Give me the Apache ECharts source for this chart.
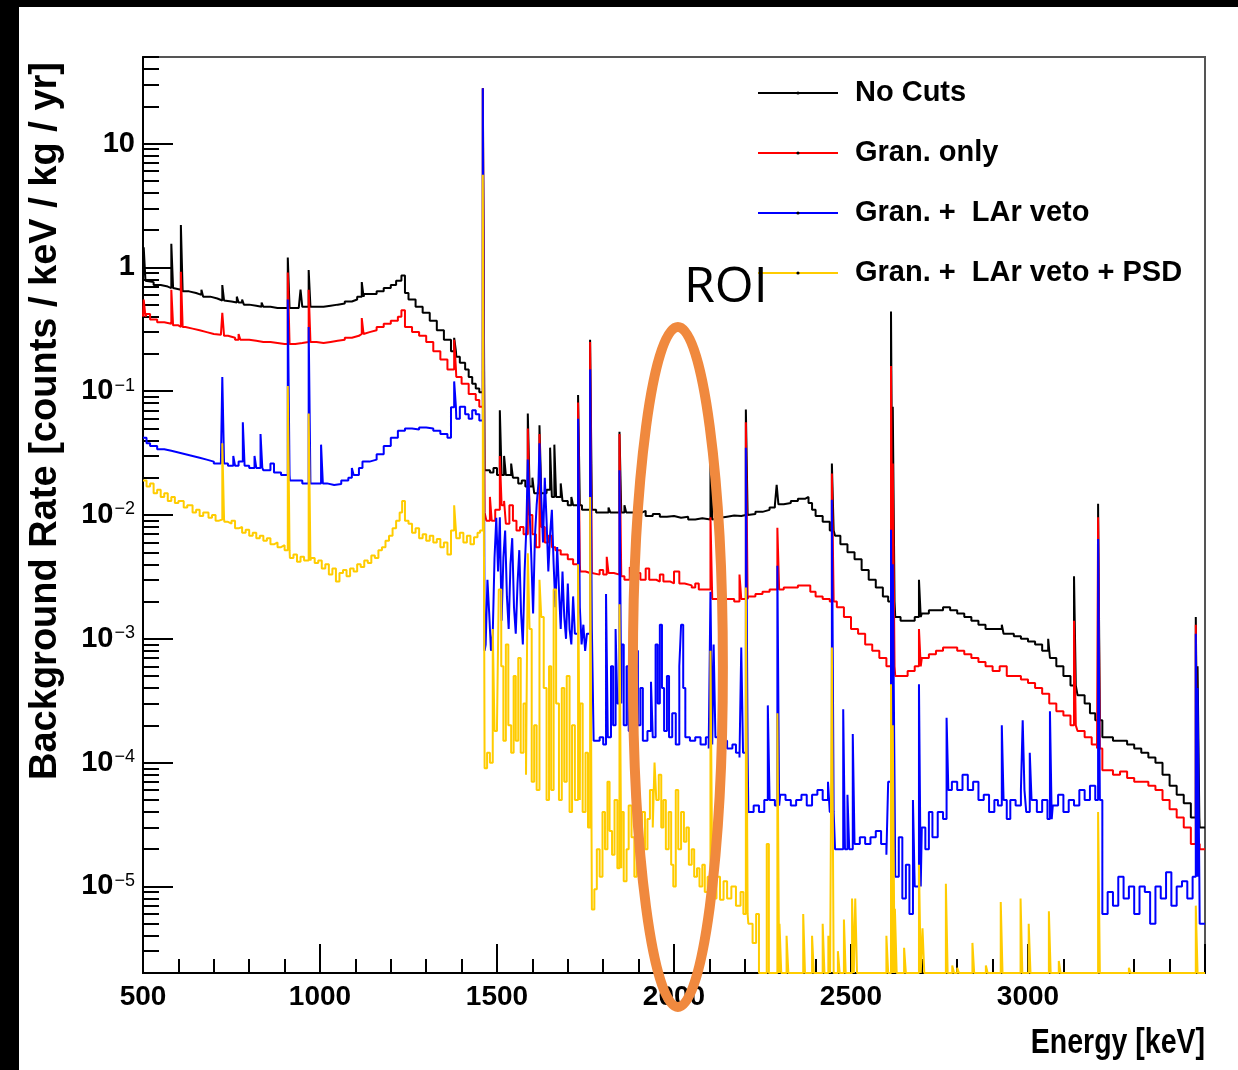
<!DOCTYPE html>
<html>
<head>
<meta charset="utf-8">
<script src="https://cdn.jsdelivr.net/npm/echarts@6/dist/echarts.min.js"></script>
<style>
html,body{margin:0;padding:0;background:#fff;}
#chart{width:1238px;height:1070px;}
</style>
</head>
<body>
<div id="chart"></div>
<script>
// ---------------- DATA ----------------
const seriesNames = ['No Cuts', 'Gran. only', 'Gran. +  LAr veto', 'Gran. +  LAr veto + PSD'];
const yTickExponents = [-5, -4, -3, -2, -1, 0, 1];

// continuum breakpoints [energy keV, rate] (histogram, value holds until next point)
const noCutsCont = [[500,0.78],[510,0.76],[530,0.72],[550,0.70],[570,0.68],[590,0.66],[610,0.64],[630,0.62],[650,0.60],[665,0.66],[670,0.58],[690,0.56],[710,0.54],[730,0.53],[750,0.52],[765,0.58],[770,0.52],[780,0.55],[785,0.50],[800,0.49],[820,0.48],[835,0.52],[840,0.48],[860,0.47],[880,0.47],[900,0.47],[920,0.47],[940,0.47],[945,0.66],[950,0.48],[975,0.48],[990,0.48],[1010,0.49],[1030,0.50],[1050,0.51],[1070,0.53],[1090,0.55],[1105,0.58],[1125,0.61],[1140,0.61],[1160,0.64],[1180,0.68],[1200,0.72],[1215,0.78],[1230,0.86],[1240,0.62],[1250,0.55],[1270,0.48],[1290,0.43],[1310,0.37],[1330,0.31],[1350,0.26],[1370,0.21],[1385,0.19],[1395,0.17],[1410,0.15],[1420,0.13],[1430,0.115],[1440,0.105],[1450,0.098],[1465,0.023],[1480,0.022],[1490,0.024],[1500,0.021],[1520,0.030],[1525,0.021],[1540,0.026],[1545,0.020],[1560,0.018],[1570,0.019],[1580,0.017],[1600,0.020],[1605,0.015],[1640,0.016],[1650,0.035],[1655,0.014],[1680,0.018],[1685,0.013],[1700,0.012],[1710,0.014],[1715,0.012],[1740,0.011],[1780,0.0105],[1800,0.0105],[1815,0.0115],[1820,0.0105],[1860,0.012],[1865,0.0105],[1890,0.0105],[1910,0.0108],[1920,0.0098],[1940,0.0102],[1960,0.0097],[1980,0.0098],[2000,0.0095],[2020,0.0097],[2040,0.0092],[2060,0.0094],[2080,0.0092],[2110,0.0095],[2130,0.0097],[2150,0.0099],[2170,0.0098],[2190,0.0100],[2210,0.0102],[2230,0.0106],[2250,0.011],[2270,0.0115],[2285,0.012],[2290,0.0175],[2295,0.0122],[2310,0.0125],[2330,0.013],[2350,0.0135],[2370,0.014],[2380,0.0125],[2390,0.011],[2400,0.0098],[2420,0.0088],[2440,0.0075],[2455,0.0068],[2470,0.0058],[2490,0.0050],[2510,0.0044],[2530,0.0036],[2550,0.0030],[2570,0.0026],[2590,0.0022],[2605,0.0020],[2625,0.0015],[2640,0.0014],[2660,0.0014],[2680,0.0015],[2700,0.0016],[2720,0.0017],[2740,0.0017],[2760,0.0018],[2780,0.0017],[2800,0.0016],[2820,0.0015],[2840,0.0014],[2860,0.0013],[2880,0.0012],[2900,0.0012],[2930,0.0011],[2960,0.00105],[2980,0.0010],[3000,0.00095],[3020,0.0009],[3040,0.0008],[3060,0.0007],[3080,0.0006],[3100,0.0005],[3120,0.00042],[3140,0.00035],[3160,0.0003],[3175,0.00025],[3190,0.00022],[3210,0.00016],[3240,0.00015],[3260,0.00015],[3280,0.00014],[3300,0.00013],[3320,0.00012],[3340,0.00011],[3360,0.0001],[3380,0.00008],[3400,0.000065],[3420,0.000055],[3440,0.000047],[3460,0.000036],[3485,0.00003]];
const noCutsPeaks = [[502,1.45],[580,1.55],[607,2.2],[724,0.72],[909,1.2],[968,0.95],[1118,0.76],[1379,0.27],[1460,28],[1508,0.07],[1587,0.066],[1620,0.053],[1662,0.037],[1729,0.093],[1763,0.26],[1846,0.047],[2103,0.043],[2203,0.071],[2446,0.026],[2613,0.44],[2618,0.075],[2692,0.003],[2926,0.0013],[3057,0.001],[3130,0.0032],[3198,0.0123],[3474,0.0015],[3479,0.0006]];

const granCont = [[500,0.40],[510,0.42],[520,0.38],[540,0.36],[560,0.35],[580,0.34],[600,0.33],[620,0.32],[640,0.31],[660,0.30],[680,0.29],[700,0.285],[720,0.28],[740,0.27],[760,0.26],[770,0.29],[775,0.26],[800,0.255],[820,0.25],[840,0.25],[860,0.245],[880,0.24],[900,0.24],[930,0.245],[950,0.25],[990,0.245],[1010,0.25],[1030,0.255],[1050,0.26],[1070,0.27],[1090,0.28],[1110,0.29],[1125,0.30],[1140,0.31],[1160,0.33],[1180,0.35],[1200,0.37],[1220,0.40],[1230,0.45],[1240,0.33],[1260,0.30],[1280,0.28],[1300,0.25],[1320,0.21],[1340,0.18],[1360,0.15],[1385,0.13],[1400,0.115],[1420,0.095],[1440,0.085],[1450,0.075],[1465,0.0105],[1470,0.009],[1480,0.014],[1485,0.009],[1495,0.011],[1510,0.012],[1520,0.013],[1525,0.0085],[1535,0.012],[1545,0.009],[1555,0.0075],[1565,0.008],[1575,0.007],[1590,0.010],[1600,0.007],[1610,0.0055],[1625,0.008],[1635,0.006],[1645,0.0068],[1655,0.0055],[1665,0.0052],[1680,0.0048],[1700,0.0044],[1715,0.0040],[1735,0.0035],[1750,0.0034],[1770,0.0033],[1790,0.0036],[1800,0.0033],[1810,0.0046],[1815,0.0034],[1830,0.0033],[1850,0.0032],[1860,0.0030],[1875,0.0038],[1880,0.0031],[1895,0.0034],[1905,0.0030],[1920,0.0037],[1930,0.0030],[1950,0.0029],[1960,0.0033],[1970,0.0029],[1990,0.0028],[2000,0.0035],[2015,0.0028],[2030,0.0027],[2050,0.0026],[2060,0.0028],[2070,0.0025],[2090,0.0025],[2108,0.0021],[2130,0.0021],[2150,0.0021],[2170,0.0020],[2185,0.0033],[2190,0.0021],[2210,0.0022],[2230,0.0023],[2250,0.0024],[2270,0.0025],[2310,0.0026],[2330,0.0026],[2350,0.0027],[2370,0.0027],[2385,0.0024],[2400,0.0022],[2420,0.0021],[2440,0.0020],[2460,0.0018],[2480,0.0015],[2500,0.0012],[2520,0.0011],[2540,0.0009],[2560,0.0008],[2580,0.0007],[2600,0.0006],[2625,0.0005],[2640,0.0005],[2660,0.00055],[2680,0.0006],[2700,0.0007],[2720,0.00075],[2740,0.0008],[2760,0.00085],[2780,0.00085],[2800,0.0008],[2820,0.00075],[2840,0.0007],[2860,0.00065],[2880,0.0006],[2900,0.00055],[2920,0.0006],[2940,0.0005],[2960,0.0005],[2980,0.00047],[3000,0.00044],[3020,0.0004],[3040,0.00036],[3060,0.0003],[3080,0.00026],[3100,0.00024],[3120,0.0002],[3140,0.00018],[3160,0.00016],[3180,0.00014],[3195,0.00013],[3210,0.000087],[3240,0.00008],[3260,0.000085],[3280,0.000075],[3300,0.00007],[3320,0.00007],[3340,0.000065],[3360,0.00006],[3380,0.00005],[3400,0.000042],[3420,0.000036],[3440,0.00003],[3460,0.000022],[3485,0.00002]];
const granPeaks = [[502,0.55],[580,0.66],[607,0.92],[724,0.43],[909,0.91],[968,0.66],[1118,0.39],[1379,0.26],[1460,28],[1508,0.03],[1587,0.05],[1620,0.045],[1729,0.081],[1763,0.25],[1846,0.045],[2103,0.0096],[2203,0.056],[2292,0.0079],[2446,0.0216],[2613,0.16],[2618,0.026],[2692,0.0012],[3130,0.0014],[3198,0.0096],[3474,0.0013]];

const larCont = [[500,0.042],[510,0.038],[520,0.036],[540,0.034],[560,0.033],[580,0.032],[600,0.031],[620,0.030],[640,0.029],[660,0.028],[680,0.027],[700,0.026],[720,0.026],[740,0.025],[755,0.030],[760,0.025],[770,0.027],[785,0.025],[800,0.024],[815,0.030],[820,0.024],[840,0.023],[860,0.026],[870,0.022],[890,0.021],[915,0.019],[930,0.019],[950,0.018],[975,0.018],[990,0.018],[1010,0.018],[1020,0.0175],[1040,0.0178],[1060,0.019],[1080,0.020],[1090,0.024],[1095,0.021],[1110,0.024],[1120,0.027],[1140,0.028],[1160,0.031],[1180,0.036],[1200,0.042],[1220,0.048],[1240,0.050],[1260,0.049],[1280,0.051],[1300,0.050],[1320,0.048],[1340,0.045],[1360,0.042],[1370,0.074],[1385,0.060],[1395,0.075],[1410,0.065],[1420,0.060],[1430,0.070],[1440,0.065],[1450,0.058],
[1463,0.0008],[1468,0.0009],[1473,0.003],[1478,0.0016],[1483,0.0008],[1488,0.0011],[1493,0.0045],[1498,0.0095],[1503,0.0035],[1513,0.0014],[1518,0.0045],[1523,0.0075],[1528,0.0022],[1533,0.0012],[1538,0.004],[1543,0.0065],[1548,0.0018],[1553,0.0011],[1558,0.0028],[1563,0.0052],[1568,0.0016],[1573,0.0009],[1578,0.0035],[1583,0.008],[1592,0.011],[1597,0.0045],[1602,0.0016],[1607,0.0065],[1612,0.012],[1617,0.018],[1625,0.014],[1630,0.006],[1635,0.02],[1640,0.009],[1645,0.0035],[1650,0.007],[1655,0.011],[1660,0.004],[1665,0.0018],[1670,0.0055],[1675,0.0025],[1680,0.0012],[1685,0.0035],[1690,0.0015],[1695,0.001],[1700,0.0028],[1705,0.0012],[1710,0.0009],[1715,0.0022],[1720,0.0011],[1734,0.0018],[1739,0.0009],[1744,0.0013],[1749,0.0008],[1754,0.0011],[1768,0.0012],
[1773,0.00015],[1790,0.00016],[1800,0.00014],[1808,0.0023],[1813,0.00016],[1822,0.0006],[1828,0.0002],[1835,0.0012],[1840,0.0003],[1852,0.0009],[1858,0.0002],[1866,0.0006],[1872,0.00018],[1880,0.0011],[1886,0.0003],[1892,0.0008],[1898,0.0002],[1905,0.0004],[1912,0.00015],[1925,0.00018],[1935,0.00045],[1940,0.00016],[1948,0.0009],[1954,0.0003],[1960,0.0013],[1966,0.0004],[1972,0.00018],[1980,0.0005],[1986,0.00016],[1995,0.00025],[2005,0.00014],[2015,0.0006],[2020,0.0013],[2026,0.0004],[2032,0.00016],[2045,0.00015],[2060,0.00016],[2075,0.00014],[2090,0.00016],[2098,0.00013],[2108,0.00014],[2112,0.0009],[2117,0.00016],[2130,0.00015],[2150,0.00013],[2165,0.00014],[2175,0.00012],[2185,0.00011],[2190,0.00085],[2195,0.00012],[2210,0.00004],[2225,0.000045],[2240,0.00004],[2255,0.00005],[2265,0.00029],[2270,0.00005],[2285,0.000045],[2300,0.000055],[2315,0.00005],[2330,0.000045],[2345,0.00005],[2360,0.000055],[2375,0.000045],[2390,0.000055],[2405,0.00006],[2420,0.00005],[2435,0.00007],[2440,0.00004],[2455,0.00002],[2470,0.00002],[2478,0.00027],[2483,0.00002],[2490,0.000055],[2495,0.00002],[2505,0.00017],[2510,0.000022],[2525,0.000025],[2540,0.000022],[2555,0.000025],[2570,0.000028],[2585,0.000022],[2600,0.000018],[2605,0.00007],[2625,0.000012],[2635,0.000025],[2645,0.000008],[2655,0.000015],[2665,0.000006],[2675,0.00005],[2680,0.00001],[2700,0.00003],[2710,0.00002],[2720,0.00004],[2730,0.000025],[2745,0.00004],[2760,0.000035],[2775,0.00006],[2785,0.00007],[2800,0.00006],[2815,0.00008],[2830,0.00006],[2845,0.00007],[2860,0.00005],[2875,0.000055],[2890,0.00004],[2905,0.00005],[2915,0.000045],[2930,0.00005],[2940,0.000035],[2950,0.00005],[2965,0.000045],[2980,0.00006],[2995,0.00004],[3005,0.00012],[3010,0.00005],[3025,0.00004],[3040,0.00005],[3055,0.000035],[3070,0.000045],[3085,0.000055],[3100,0.00004],[3115,0.00005],[3130,0.000045],[3145,0.00006],[3160,0.00005],[3175,0.000065],[3190,0.00005],[3210,0.000006],[3225,0.000009],[3240,0.000007],[3255,0.000012],[3270,0.000008],[3285,0.00001],[3300,0.000006],[3315,0.00001],[3330,0.000009],[3345,0.000005],[3360,0.00001],[3375,0.000008],[3390,0.000013],[3405,0.000007],[3420,0.00001],[3435,0.000011],[3450,0.000008],[3465,0.000012],[3485,0.000005]];
const larPeaks = [[724,0.13],[782,0.056],[832,0.045],[909,0.55],[968,0.33],[1003,0.037],[1379,0.12],[1460,28],[1508,0.0096],[1587,0.028],[1620,0.038],[1729,0.06],[1763,0.15],[1846,0.023],[2103,0.0024],[2203,0.035],[2292,0.0039],[2446,0.0133],[2613,0.0076],[2618,0.004],[2692,0.00043],[2770,0.00023],[2926,0.0002],[2985,0.00022],[3062,0.00026],[3198,0.0064],[3474,0.0011],[3479,0.0004]];

const psdCont = [[500,0.019],[510,0.017],[520,0.018],[530,0.015],[540,0.016],[550,0.014],[560,0.015],[570,0.013],[580,0.014],[590,0.0125],[600,0.013],[615,0.0115],[625,0.012],[640,0.0105],[650,0.011],[660,0.0098],[670,0.0105],[685,0.0095],[695,0.01],[705,0.009],[715,0.0092],[730,0.0088],[740,0.0085],[750,0.009],[760,0.0078],[770,0.008],[780,0.0072],[790,0.0076],[800,0.0068],[810,0.0072],[820,0.0065],[830,0.0068],[840,0.0062],[850,0.0065],[860,0.0058],[870,0.006],[880,0.0055],[890,0.0057],[900,0.0052],[915,0.0045],[925,0.0048],[935,0.0042],[945,0.0046],[955,0.0043],[975,0.0045],[985,0.0041],[995,0.0043],[1005,0.0037],[1015,0.004],[1025,0.0033],[1035,0.0037],[1045,0.0029],[1055,0.0034],[1065,0.0036],[1075,0.0032],[1085,0.0037],[1095,0.0035],[1105,0.004],[1115,0.0038],[1125,0.0043],[1135,0.0041],[1145,0.0047],[1155,0.0045],[1165,0.0052],[1175,0.0055],[1185,0.0062],[1195,0.0068],[1205,0.0078],[1215,0.009],[1225,0.0105],[1232,0.013],[1240,0.009],[1250,0.0085],[1260,0.0072],[1270,0.0078],[1280,0.0065],[1290,0.007],[1300,0.0062],[1310,0.0068],[1320,0.006],[1330,0.0064],[1340,0.0055],[1350,0.006],[1360,0.0048],[1370,0.0075],[1385,0.0065],[1395,0.0072],[1405,0.006],[1415,0.0068],[1425,0.0058],[1435,0.0066],[1445,0.0072],[1452,0.0075],[1465,0.00009],[1472,0.00012],[1480,0.0001],[1488,0.0012],[1493,0.00018],[1500,0.0002],[1505,0.0025],[1512,0.0006],[1518,0.00015],[1525,0.0009],[1532,0.0002],[1540,0.00012],[1547,0.0005],[1553,0.00015],[1560,0.0007],[1567,0.00012],[1575,0.0003],[1582,0.00008],[1592,0.0012],[1598,0.00007],[1605,0.0002],[1612,0.00006],[1625,0.0015],[1632,0.0004],[1640,0.00005],[1647,0.0006],[1653,0.00006],[1660,0.0025],[1667,0.0003],[1675,0.00005],[1683,0.0004],[1690,0.00007],[1697,0.0005],[1705,0.00004],[1712,0.0002],[1720,0.00005],[1735,0.0003],[1742,0.00004],[1750,0.00012],[1757,0.00003],[1768,0.0000065],[1775,0.0000095],[1782,0.00002],[1790,0.000012],[1798,0.00004],[1805,0.00002],[1812,0.00007],[1818,0.000028],[1825,0.000018],[1832,0.00005],[1840,0.000014],[1852,0.00004],[1858,0.000011],[1866,0.00002],[1872,0.000045],[1880,0.000025],[1888,0.000012],[1895,0.00003],[1902,0.00002],[1910,0.00004],[1918,0.00002],[1925,0.000035],[1932,0.00006],[1940,0.00003],[1945,0.0001],[1950,0.00005],[1957,0.00008],[1964,0.00003],[1970,0.00005],[1977,0.00002],[1985,0.00004],[1992,0.000015],[1998,0.00001],[2005,0.00006],[2012,0.00002],[2020,0.00004],[2028,0.000023],[2035,0.00003],[2042,0.000015],[2050,0.00002],[2057,0.000012],[2065,0.000014],[2072,0.00001],[2080,0.000015],[2087,0.000009],[2095,0.000012],[2110,0.000008],[2120,0.000012],[2130,0.0000078],[2140,0.000011],[2150,0.000008],[2162,0.00001],[2175,0.000007],[2188,0.000009],[2196,0.000006],[2210,0.000005],[2222,0.0000035],[2232,0.000006],[2240,0],[2262,0.000022],[2268,0],[2298,0.000005],[2303,0],[2318,0.000004],[2323,0],[2365,0.000006],[2370,0],[2390,0.000004],[2395,0],[2420,0.000005],[2425,0],[2436,0.000004],[2441,0],[2463,0.000003],[2468,0],[2480,0.0000054],[2485,0],[2503,0.000008],[2508,0],[2512,0.000008],[2517,0],[2600,0.000004],[2605,0],[2624,0.0000066],[2629,0],[2650,0.0000032],[2655,0],[2692,0.000015],[2697,0],[2702,0.0000046],[2707,0],[2768,0.0000105],[2773,0],[2786,0.0000023],[2791,0],[2800,0.0000022],[2805,0],[2843,0.0000035],[2848,0],[2881,0.0000023],[2886,0],[2923,0.0000075],[2928,0],[2979,0.000008],[2984,0],[3002,0.000005],[3007,0],[3059,0.0000063],[3064,0],[3087,0.0000025],[3092,0],[3285,0.0000022],[3290,0],[3485,0]];
const psdPeaks = [[724,0.038],[909,0.11],[968,0.066],[1379,0.012],[1460,5.6],[1587,0.0049],[1620,0.003],[1729,0.004],[1763,0.014],[1846,0.0019],[2103,0.0008],[2203,0.0026],[2292,0.00025],[2446,0.00085],[2613,0.00043],[2618,0.0002],[3198,0.00004],[3474,0.000007]];

const seriesColors = ['#000000', '#ff0000', '#0000ff', '#ffcc00'];

// ---------------- helpers ----------------
const E_MIN = 500, E_MAX = 3500, R_MIN = 2e-6, R_MAX = 50, BIN = 5;
const LOG_MIN = Math.log10(R_MIN), LOG_MAX = Math.log10(R_MAX);

function buildHist(cont, peaks) {
  const hold = e => { let v = cont[0][1]; for (const p of cont) { if (p[0] <= e) v = p[1]; else break; } return v; };
  const pts = cont.filter(p => !peaks.some(([e]) => p[0] >= e && p[0] < e + BIN));
  for (const [e, v] of peaks) { pts.push([e, v]); pts.push([e + BIN, hold(e + BIN)]); }
  pts.sort((a, b) => a[0] - b[0]);
  pts.push([E_MAX, pts[pts.length - 1][1]]);
  // zero-content bins sit on the axis floor, as in the original log plot
  return pts.map(([e, v]) => [e, Math.log10(Math.max(v, R_MIN))]);
}

const hists = [
  buildHist(noCutsCont, noCutsPeaks),
  buildHist(granCont, granPeaks),
  buildHist(larCont, larPeaks),
  buildHist(psdCont, psdPeaks)
];

const minorLogTicks = [];
for (let n = -6; n <= 1; n++) for (let k = 2; k <= 9; k++) {
  const v = Math.log10(k) + n;
  if (v >= LOG_MIN - 1e-9 && v <= LOG_MAX + 1e-9) minorLogTicks.push(v);
}

const FONT = "'Liberation Sans', Arial, Helvetica, sans-serif";

const chart = echarts.init(document.getElementById('chart'), null, { renderer: 'canvas' });

const option = {
  animation: false,
  backgroundColor: '#ffffff',
  grid: { left: 143, top: 57, right: 33, bottom: 97, show: true, borderColor: '#555', borderWidth: 2, backgroundColor: 'transparent' },
  legend: {
    data: seriesNames,
    orient: 'vertical',
    left: 757, top: 75, padding: 0,
    itemWidth: 80, itemHeight: 4, itemGap: 24,
    itemStyle: { color: '#000' },
    textStyle: { fontFamily: FONT, fontWeight: 'bold', fontSize: 29, lineHeight: 36, color: '#000', padding: [0, 0, 0, 12] },
    selectedMode: false
  },
  xAxis: {
    type: 'value', min: E_MIN, max: E_MAX, interval: 500,
    axisLine: { onZero: false, lineStyle: { color: '#000', width: 2 } },
    axisTick: { inside: true, length: 29, lineStyle: { color: '#000', width: 2 } },
    minorTick: { show: true, splitNumber: 5, length: 14, lineStyle: { color: '#000', width: 2 } },
    splitLine: { show: false },
    axisLabel: {
      showMaxLabel: false, margin: 10,
      formatter: v => String(v),
      fontFamily: FONT, fontWeight: 'bold', fontSize: 28, color: '#000'
    }
  },
  yAxis: [{
    type: 'value', min: LOG_MIN, max: LOG_MAX, position: 'left',
    axisLine: { onZero: false, lineStyle: { color: '#000', width: 2 } },
    axisTick: { inside: true, length: 30, customValues: yTickExponents, lineStyle: { color: '#000', width: 2 } },
    splitLine: { show: false },
    axisLabel: {
      customValues: yTickExponents, margin: 8,
      formatter: function (v) {
        const n = Math.round(v);
        if (n === 1) return '{b|10}';
        if (n === 0) return '{b|1}';
        return '{b|10}{s|\u2212' + (-n) + '}';
      },
      rich: {
        b: { fontFamily: FONT, fontWeight: 'bold', fontSize: 29, color: '#000' },
        s: { fontFamily: FONT, fontWeight: 'normal', fontSize: 18, color: '#000', verticalAlign: 'top', padding: [0, 0, 0, 1] }
      }
    }
  }, {
    type: 'value', min: LOG_MIN, max: LOG_MAX, position: 'left',
    axisLine: { show: false, onZero: false },
    axisTick: { show: true, inside: true, length: 16, customValues: minorLogTicks, lineStyle: { color: '#000', width: 2 } },
    axisLabel: { show: false },
    splitLine: { show: false }
  }],
  series: hists.map((d, i) => ({
    name: seriesNames[i],
    type: 'line',
    step: 'end',
    data: d,
    symbol: 'none',
    clip: false,
    yAxisIndex: 0,
    lineStyle: { color: seriesColors[i], width: 2 },
    itemStyle: { color: seriesColors[i] },
    z: 2 + i
  }))
};
chart.setOption(option);

// annotation + texts positioned after layout
const roiCenterE = 2011;
const cx = chart.convertToPixel({ xAxisIndex: 0 }, roiCenterE);
chart.setOption({
  graphic: [
    { id: 'bandTop', type: 'rect', left: 0, top: 0, shape: { width: 1238, height: 7 }, style: { fill: '#000' }, z: 50 },
    { id: 'bandLeft', type: 'rect', left: 0, top: 0, shape: { width: 19, height: 1070 }, style: { fill: '#000' }, z: 50 },
    { id: 'ytitle', type: 'text', x: 46, y: 421, rotation: Math.PI / 2,
      style: { text: 'Background Rate [counts / keV / kg / yr]', font: "bold 38px 'Liberation Sans', Arial, sans-serif", fill: '#000', align: 'center', verticalAlign: 'middle' }, z: 50 },
    { id: 'xtitle', type: 'text', x: 1205, y: 1044, scaleY: 1.2,
      style: { text: 'Energy [keV]', font: "bold 28.5px " + FONT, fill: '#000', align: 'right', verticalAlign: 'middle' }, z: 50 },
    { id: 'roiEllipse', type: 'ellipse', shape: { cx: cx, cy: 667, rx: 45, ry: 340 },
      style: { fill: 'none', stroke: '#F0893E', lineWidth: 10 }, z: 60 },
    { id: 'roiText', type: 'text', x: 684, y: 288,
      style: { text: 'ROI', font: "50px 'Open Sans', Lato, sans-serif", fill: '#000', align: 'left', verticalAlign: 'middle' }, z: 60 }
  ]
});
</script>
</body>
</html>
